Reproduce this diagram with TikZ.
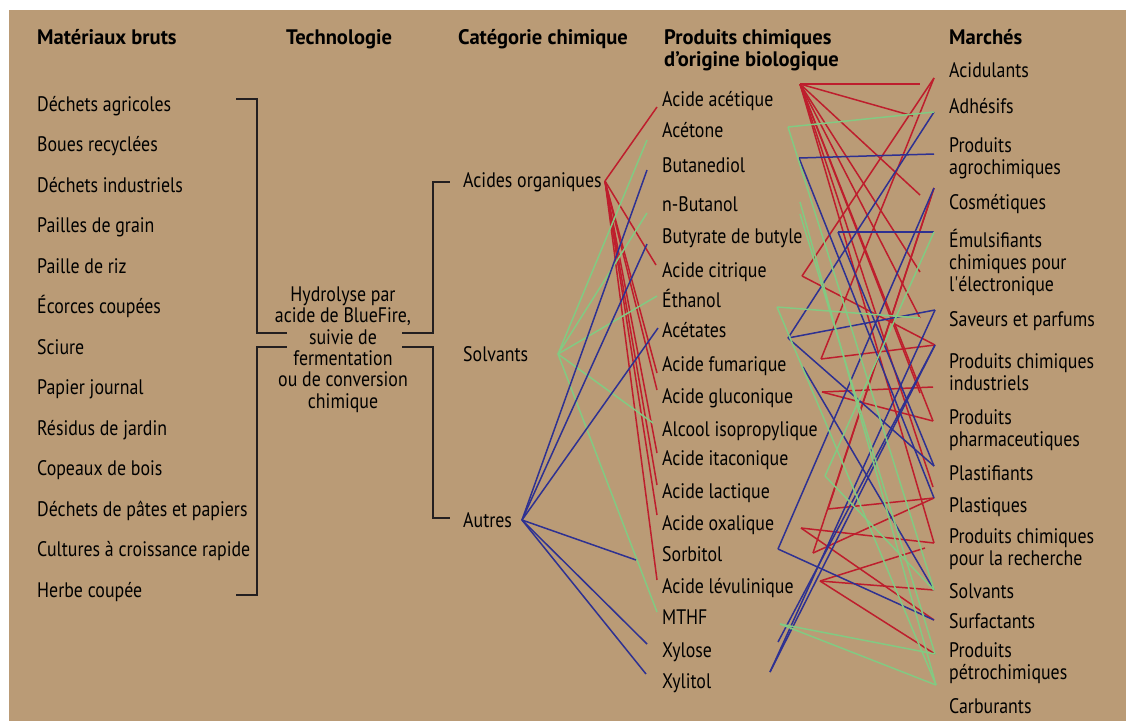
\documentclass[tikz,border=0pt]{standalone}
\usepackage{fontspec}
\setmainfont{PT Sans}[FakeStretch=0.85]
\newfontfamily\headfont{PT Sans}[FakeStretch=0.98]
\newfontfamily\plainquote{PT Sans}[FakeStretch=0.85, Ligatures=TeXOff]
\usetikzlibrary{calc}
\definecolor{bgtan}{RGB}{186,155,118}
\definecolor{linkred}{RGB}{190,30,45}
\definecolor{linkblue}{RGB}{46,49,146}
\definecolor{linkgreen}{RGB}{130,202,130}
\definecolor{bracketgray}{RGB}{35,31,32}

\begin{document}
\begin{tikzpicture}[x=1pt, y=-1pt,
    heading/.style={anchor=base west, inner sep=0pt, align=left,
                    font=\fontsize{21}{22}\selectfont\headfont\bfseries},
    item/.style={anchor=base west, inner sep=0pt, align=left,
                 font=\fontsize{21}{22}\selectfont},
    tech/.style={anchor=base, inner sep=0pt, align=center,
                 font=\fontsize{21}{21.3}\selectfont},
    bracket/.style={bracketgray, line width=1.4pt},
    acid/.style={linkred, line width=1.5pt},
    solvent/.style={linkgreen, line width=1.5pt},
    other/.style={linkblue, line width=1.5pt}
]

% Background with white margin at top and left
\fill[white] (0,0) rectangle (1126,721);
\fill[bgtan] (9,10) rectangle (1126,721);
\useasboundingbox (0,0) rectangle (1126,721);

% Column headings (multi-line nodes sit on their last baseline)
\node[heading] (head-raw) at (37,44) {Matériaux bruts};
\node[heading] (head-tech) at (286,44) {Technologie};
\node[heading] (head-cat) at (458,44) {Catégorie chimique};
\node[heading] (head-prod) at (664,66) {Produits chimiques\\d’origine biologique};
\node[heading] (head-mkt) at (949,44) {Marchés};

% Raw materials
\node[item] (raw-agri) at (37,111) {Déchets agricoles};
\node[item] (raw-sludge) at (37,151.5) {Boues recyclées};
\node[item] (raw-indus) at (37,192) {Déchets industriels};
\node[item] (raw-grain) at (37,232.5) {Pailles de grain};
\node[item] (raw-rice) at (37,273) {Paille de riz};
\node[item] (raw-bark) at (37,313.5) {Écorces coupées};
\node[item] (raw-sawdust) at (37,354) {Sciure};
\node[item] (raw-paper) at (37,394.5) {Papier journal};
\node[item] (raw-garden) at (37,435) {Résidus de jardin};
\node[item] (raw-chips) at (37,475.5) {Copeaux de bois};
\node[item] (raw-pulp) at (37,516) {Déchets de pâtes et papiers};
\node[item] (raw-crops) at (37,556.5) {Cultures à croissance rapide};
\node[item] (raw-grass) at (37,597) {Herbe coupée};

% Technology
\node[tech] (tech) at (343,408) {Hydrolyse par\\acide de BlueFire,\\suivie de\\fermentation\\ou de conversion\\chimique};

% Chemical categories
\node[item] (cat-acids) at (463,187) {Acides organiques};
\node[item] (cat-solv) at (463,361) {Solvants};
\node[item] (cat-other) at (463,527) {Autres};

% Bio-based chemicals
\node[item] (prod-acetic) at (662,106) {Acide acétique};
\node[item] (prod-acetone) at (662,137) {Acétone};
\node[item] (prod-butd) at (662,172) {Butanediol};
\node[item] (prod-nbut) at (662,211) {n-Butanol};
\node[item] (prod-buty) at (662,243) {Butyrate de butyle};
\node[item] (prod-citr) at (662,277) {Acide citrique};
\node[item] (prod-eth) at (662,307) {Éthanol};
\node[item] (prod-acetates) at (662,337) {Acétates};
\node[item] (prod-fum) at (662,371) {Acide fumarique};
\node[item] (prod-gluc) at (662,403) {Acide gluconique};
\node[item] (prod-iso) at (662,436) {Alcool isopropylique};
\node[item] (prod-ita) at (662,465) {Acide itaconique};
\node[item] (prod-lact) at (662,498) {Acide lactique};
\node[item] (prod-oxal) at (662,530) {Acide oxalique};
\node[item] (prod-sorb) at (662,561) {Sorbitol};
\node[item] (prod-levu) at (662,593) {Acide lévulinique};
\node[item] (prod-mthf) at (662,624) {MTHF};
\node[item] (prod-xylose) at (662,657) {Xylose};
\node[item] (prod-xylitol) at (662,688) {Xylitol};

% Markets
\node[item] (mkt-acid) at (949,77) {Acidulants};
\node[item] (mkt-adh) at (949,113) {Adhésifs};
\node[item] (mkt-agro) at (949,174) {Produits\\agrochimiques};
\node[item] (mkt-cosm) at (949,209) {Cosmétiques};
\node[item] (mkt-emul) at (949,291) {Émulsifiants\\chimiques pour\\{\plainquote l'}électronique};
\node[item] (mkt-sav) at (949,326) {Saveurs et parfums};
\node[item] (mkt-ind) at (949,390) {Produits chimiques\\industriels};
\node[item] (mkt-pharm) at (949,446) {Produits\\pharmaceutiques};
\node[item] (mkt-plastif) at (949,480) {Plastifiants};
\node[item] (mkt-plast) at (949,512) {Plastiques};
\node[item] (mkt-rech) at (949,565) {Produits chimiques\\pour la recherche};
\node[item] (mkt-solv) at (949,598) {Solvants};
\node[item] (mkt-surf) at (949,628) {Surfactants};
\node[item] (mkt-petro) at (949,679) {Produits\\pétrochimiques};
\node[item] (mkt-carb) at (949,713) {Carburants};

% Brackets from raw materials to technology to categories
\coordinate (raw-top) at (236,99);
\coordinate (raw-bottom) at (236,595);
\coordinate (tech-in1) at (287,333);
\coordinate (tech-in2) at (287,347);
\coordinate (tech-out1) at (402,333);
\coordinate (tech-out2) at (402,347);
\coordinate (cat-top) at (450,182);
\coordinate (cat-bottom) at (450,518);
\draw[bracket] (raw-top) -- ++(21,0) |- (tech-in1);
\draw[bracket] (raw-bottom) -- ++(21,0) |- (tech-in2);
\draw[bracket] (tech-out1) -- ++(31,0) |- (cat-top);
\draw[bracket] (tech-out2) -- ++(31,0) |- (cat-bottom);

% Category hubs and product entry points
\coordinate (acids-hub) at (605,181);
\coordinate (solv-hub) at (558,354);
\coordinate (other-hub) at (522,520);
\coordinate (acetic-in) at (657,107);
\coordinate (acetone-in) at (647,140);
\coordinate (butd-in) at (647,170);
\coordinate (nbut-in) at (647,213);
\coordinate (buty-in) at (647,244);
\coordinate (citr-in) at (656,265);
\coordinate (eth-in) at (657,296);
\coordinate (acetates-in) at (658,328);
\coordinate (fum-in) at (657,373);
\coordinate (gluc-in) at (657,390);
\coordinate (iso-in) at (653,423);
\coordinate (ita-in) at (657,453);
\coordinate (lact-in) at (657,485);
\coordinate (oxal-in) at (657,515);
\coordinate (sorb-in) at (636,560);
\coordinate (levu-in) at (657,580);
\coordinate (mthf-in) at (657,612);
\coordinate (xylose-in) at (647,644);
\coordinate (xylitol-in) at (646,674);

% Categories to products
\draw[acid] (acids-hub) -- (acetic-in);
\draw[acid] (acids-hub) -- (citr-in);
\draw[acid] (acids-hub) -- (fum-in);
\draw[acid] (acids-hub) -- (gluc-in);
\draw[acid] (acids-hub) -- (ita-in);
\draw[acid] (acids-hub) -- (lact-in);
\draw[acid] (acids-hub) -- (oxal-in);
\draw[acid] (acids-hub) -- (levu-in);
\draw[solvent] (solv-hub) -- (acetone-in);
\draw[solvent] (solv-hub) -- (nbut-in);
\draw[solvent] (solv-hub) -- (eth-in);
\draw[solvent] (solv-hub) -- (iso-in);
\draw[solvent] (solv-hub) -- (mthf-in);
\draw[other] (other-hub) -- (butd-in);
\draw[other] (other-hub) -- (buty-in);
\draw[other] (other-hub) -- (acetates-in);
\draw[other] (other-hub) -- (sorb-in);
\draw[other] (other-hub) -- (xylose-in);
\draw[other] (other-hub) -- (xylitol-in);

% Product exit points
\coordinate (acetic-out) at (800,84);
\coordinate (acetone-out) at (788,127);
\coordinate (butd-out) at (799,158);
\coordinate (nbut-out) at (800,202);
\coordinate (nbut-out2) at (800,214);
\coordinate (buty-out) at (838,232);
\coordinate (citr-out) at (802,276);
\coordinate (eth-out) at (777,307);
\coordinate (acetates-out) at (788,338);
\coordinate (acetates-out2) at (803,367);
\coordinate (fum-out) at (821,359);
\coordinate (gluc-out) at (822,392);
\coordinate (iso-out) at (825,476);
\coordinate (ita-out) at (828,509);
\coordinate (lact-out) at (801,528);
\coordinate (sorb-out) at (778,549);
\coordinate (oxal-out) at (813,553);
\coordinate (levu-out) at (820,581);
\coordinate (mthf-out) at (780,624);
\coordinate (xylose-out) at (778,642);
\coordinate (xylitol-out) at (770,672);

% Market entry points
\coordinate (acid-end) at (934,78);
\coordinate (acid-end2) at (920,84);
\coordinate (adh-end) at (934,112);
\coordinate (adh-end2) at (913,116);
\coordinate (agro-end) at (934,154);
\coordinate (cosm-end) at (934,188);
\coordinate (cosm-end2) at (920,195);
\coordinate (emul-end) at (934,232);
\coordinate (emul-end2) at (920,272);
\coordinate (sav-end) at (935,310);
\coordinate (sav-end2) at (920,318);
\coordinate (ind-end) at (935,345);
\coordinate (ind-end2) at (933,387);
\coordinate (ind-end3) at (920,393);
\coordinate (pharm-end) at (933,421);
\coordinate (plastif-end) at (934,466);
\coordinate (plast-end) at (934,498);
\coordinate (plast-end2) at (933,487);
\coordinate (rech-end) at (934,543);
\coordinate (rech-end2) at (925,548);
\coordinate (solv-end) at (934,590);
\coordinate (surf-end) at (934,620);
\coordinate (petro-end) at (935,654);
\coordinate (carb-end) at (936,685);

% Products to markets
\draw[acid] (acetic-out) -- (acid-end2);
\draw[acid] (acetic-out) -- (adh-end2);
\draw[acid] (acetic-out) -- (cosm-end2);
\draw[acid] (acetic-out) -- (emul-end2);
\draw[acid] (acetic-out) -- (sav-end2);
\draw[acid] (acetic-out) -- (ind-end3);
\draw[acid] (acetic-out) -- (pharm-end);
\draw[acid] (acetic-out) -- (plast-end2);
\draw[acid] (acetic-out) -- (rech-end);
\draw[acid] (citr-out) -- (acid-end);
\draw[acid] (citr-out) -- (ind-end);
\draw[acid] (fum-out) -- (acid-end);
\draw[acid] (fum-out) -- (ind-end);
\draw[acid] (gluc-out) -- (ind-end2);
\draw[acid] (gluc-out) -- (pharm-end);
\draw[acid] (ita-out) -- (cosm-end);
\draw[acid] (ita-out) -- (plast-end);
\draw[acid] (lact-out) -- (rech-end);
\draw[acid] (lact-out) -- (surf-end);
\draw[acid] (oxal-out) -- (cosm-end);
\draw[acid] (oxal-out) -- (plast-end);
\draw[acid] (levu-out) -- (rech-end2);
\draw[acid] (levu-out) -- (solv-end);
\draw[acid] (levu-out) -- (petro-end);
\draw[other] (butd-out) -- (agro-end);
\draw[other] (butd-out) -- (plast-end);
\draw[other] (buty-out) -- (emul-end);
\draw[other] (buty-out) -- (plastif-end);
\draw[other] (acetates-out) -- (adh-end);
\draw[other] (acetates-out) -- (sav-end);
\draw[other] (acetates-out) -- (plastif-end);
\draw[other] (acetates-out2) -- (solv-end);
\draw[other] (sorb-out) -- (cosm-end);
\draw[other] (sorb-out) -- (surf-end);
\draw[other] (xylose-out) -- (ind-end);
\draw[other] (xylitol-out) -- (ind-end);
\draw[other] (xylitol-out) -- (sav-end);
\draw[solvent] (acetone-out) -- (adh-end);
\draw[solvent] (acetone-out) -- (solv-end);
\draw[solvent] (nbut-out) -- (carb-end);
\draw[solvent] (nbut-out2) -- (petro-end);
\draw[solvent] (eth-out) -- (sav-end2);
\draw[solvent] (eth-out) -- (carb-end);
\draw[solvent] (iso-out) -- (emul-end);
\draw[solvent] (iso-out) -- (solv-end);
\draw[solvent] (mthf-out) -- (petro-end);
\draw[solvent] (mthf-out) -- (carb-end);

\end{tikzpicture}
\end{document}
